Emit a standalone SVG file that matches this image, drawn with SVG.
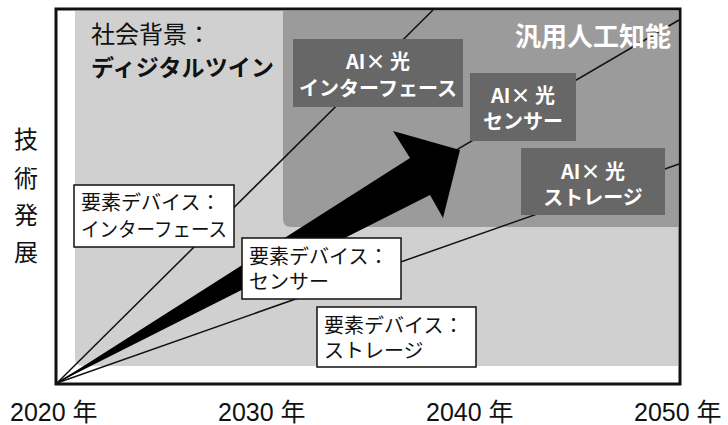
<svg xmlns="http://www.w3.org/2000/svg" width="728" height="425" viewBox="0 0 728 425">
<style>
  text { font-family: "Noto Sans CJK JP", "Noto Sans", sans-serif; }
  .lbl { font-size: 20px; fill: #111; }
  .ai { font-size: 20px; font-weight: bold; fill: #fff; text-anchor: middle; }
  .axis { font-size: 24px; fill: #111; }
  .ax { font-family: "Liberation Sans", "Noto Sans CJK JP", sans-serif; font-size: 25px; fill: #111; }
  .wbox { fill: #fff; stroke: #111; stroke-width: 1.5; }
  .dbox { fill: #676767; }
  .conn { stroke: #111; stroke-width: 1.5; fill: none; }
</style>
<rect x="0" y="0" width="728" height="425" fill="#fff"/>
<g id="frame">
  <rect x="56" y="9" width="624" height="375" fill="#fff" stroke="#111" stroke-width="3"/>
</g>
<g id="region-social">
  <path d="M75 11 H678 V366 H83 Q75 366 75 358 Z" fill="#d0d0d0"/>
</g>
<g id="region-agi">
  <path d="M283 11 H678 V227 H291 Q283 227 283 219 Z" fill="#9b9b9b"/>
</g>
<g id="connectors">
  <line class="conn" x1="57" y1="383" x2="433" y2="10"/>
  <line class="conn" x1="57" y1="383" x2="679" y2="20"/>
  <line class="conn" x1="57" y1="383" x2="679" y2="164"/>
  <polygon points="57,383 410,158 393,131 460,150 443,218 430,195" fill="#000"/>
</g>
<g id="label-social">
  <text x="91" y="43" style="font-size:24px;fill:#111">社会背景：</text>
  <text x="91" y="76" textLength="183" style="font-size:23px;font-weight:bold;fill:#111">ディジタルツイン</text>
</g>
<g id="label-agi">
  <text x="671" y="46" text-anchor="end" style="font-size:26px;font-weight:bold;fill:#fff">汎用人工知能</text>
</g>
<g id="ai-interface">
  <rect class="dbox" x="293" y="39" width="170" height="68"/>
  <text class="ai" x="378" y="69">AI× 光</text>
  <text class="ai" x="378" y="96">インターフェース</text>
</g>
<g id="ai-sensor">
  <rect class="dbox" x="470" y="73" width="106" height="68"/>
  <text class="ai" x="523" y="103">AI× 光</text>
  <text class="ai" x="523" y="129">センサー</text>
</g>
<g id="ai-storage">
  <rect class="dbox" x="521" y="148" width="144" height="67"/>
  <text class="ai" x="593" y="179">AI× 光</text>
  <text class="ai" x="593" y="205">ストレージ</text>
</g>
<g id="dev-interface">
  <rect class="wbox" x="74" y="185" width="160" height="62"/>
  <text class="lbl" x="81" y="210">要素デバイス：</text>
  <text class="lbl" x="81" y="237" textLength="146" lengthAdjust="spacingAndGlyphs">インターフェース</text>
</g>
<g id="dev-sensor">
  <rect class="wbox" x="242" y="238" width="159" height="61"/>
  <text class="lbl" x="249" y="264">要素デバイス：</text>
  <text class="lbl" x="249" y="289">センサー</text>
</g>
<g id="dev-storage">
  <rect class="wbox" x="317" y="307" width="159" height="60"/>
  <text class="lbl" x="324" y="333">要素デバイス：</text>
  <text class="lbl" x="324" y="358">ストレージ</text>
</g>
<g id="y-axis-label">
  <text class="axis" x="26" y="148" text-anchor="middle">技</text>
  <text class="axis" x="26" y="187" text-anchor="middle">術</text>
  <text class="axis" x="26" y="224" text-anchor="middle">発</text>
  <text class="axis" x="26" y="261" text-anchor="middle">展</text>
</g>
<g id="x-axis-labels">
  <text class="ax" x="10" y="421">2020 年</text>
  <text class="ax" x="218" y="421">2030 年</text>
  <text class="ax" x="426" y="421">2040 年</text>
  <text class="ax" x="634" y="421">2050 年</text>
</g>
</svg>
